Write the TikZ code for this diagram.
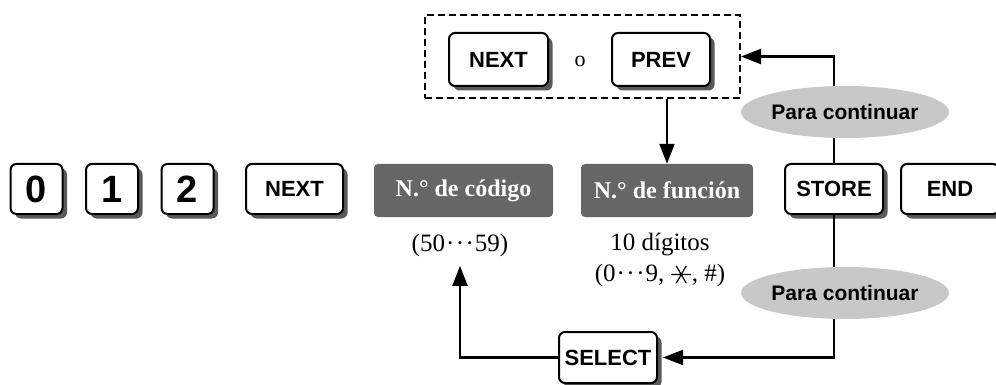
\documentclass[tikz,border=0pt]{standalone}
\usepackage{fontspec}
\setmainfont{Liberation Serif}
\setsansfont{Liberation Sans}
\usetikzlibrary{arrows.meta, shadows, shapes.geometric}
\definecolor{keyshade}{HTML}{5A5A5A}
\definecolor{fieldgray}{HTML}{666666}
\definecolor{notegray}{HTML}{C8C8C8}
% six-armed key symbol used in the digit list
\newcommand{\sextile}{\tikz[baseline=-7pt, line width=1.2pt]{\draw (0:10pt) -- (180:10pt) (60:10pt) -- (240:10pt) (120:10pt) -- (300:10pt);}}
\newcommand{\thru}{\kern1pt·\kern1.5pt·\kern1.5pt·\kern1pt}

\begin{document}
\begin{tikzpicture}[
    x=1pt, y=-1pt,
    >={Triangle[length=20pt, width=15pt]},
    keybox/.style={draw, fill=white, line width=2pt, rounded corners=6pt,
                   minimum height=50pt, inner sep=0pt,
                   font=\sffamily\bfseries\fontsize{22}{26}\selectfont,
                   drop shadow={shadow xshift=4.5pt, shadow yshift=-4.5pt,
                                fill=keyshade, opacity=1}},
    digitkey/.style={keybox, minimum width=52pt,
                     font=\sffamily\bfseries\fontsize{38}{42}\selectfont},
    field/.style={fill=fieldgray, rounded corners=4pt, minimum height=53pt,
                  text=white, font=\bfseries\fontsize{24}{28}\selectfont},
    note/.style={ellipse, fill=notegray, minimum width=165pt, minimum height=52pt,
                 inner sep=0pt, font=\sffamily\bfseries\fontsize{21}{24}\selectfont},
    lbl/.style={align=center, font=\fontsize{25}{31}\selectfont},
    link/.style={line width=2.2pt},
]
\useasboundingbox (0,0) rectangle (996,385);

% main key sequence
\node[digitkey] (k0) at (36.5,189) {0};
\node[digitkey] (k1) at (112,189) {1};
\node[digitkey] (k2) at (187.5,189) {2};
\node[keybox, minimum width=97pt] (next) at (294.5,189) {NEXT};
\node[field, minimum width=179pt] (code) at (463.5,190.5) {N.° de código};
\node[field, minimum width=172pt] (func) at (667,190.5) {N.° de función};
\node[keybox, minimum width=98pt] (store) at (834,189) {STORE};
\node[keybox, minimum width=98pt] (end) at (950,189) {END};

% value ranges
\node[lbl] (codelbl) at (460,245) {(50\thru59)};
\node[lbl] (funclbl) at (660,260) {10 dígitos\\(0\thru9, \sextile, \#)};

% NEXT or PREV
\node[draw, dashed, dash pattern=on 7pt off 4pt, line width=2pt,
      minimum width=315pt, minimum height=83pt] (choice) at (582.5,56.5) {};
\node[keybox, minimum width=99pt, minimum height=53pt] (tnext) at (498.5,59.5) {NEXT};
\node[font=\fontsize{22}{26}\selectfont] (or) at (580,61) {o};
\node[keybox, minimum width=98pt, minimum height=53pt] (tprev) at (661,59.5) {PREV};

\node[keybox, minimum width=98pt, minimum height=51pt] (select) at (608,357.5) {SELECT};

% loops
\draw[link, ->] (choice.south -| func.north) -- (func.north);
\draw[link, ->] (store.north) |- (choice.east);
\draw[link, ->] (store.south) |- ([xshift=5pt]select.east);
\draw[link, ->, shorten >=6pt] (select.west) -| (codelbl.south);

\node[note] (more1) at (845,112) {Para continuar};
\node[note] (more2) at (845,293) {Para continuar};

\end{tikzpicture}
\end{document}
